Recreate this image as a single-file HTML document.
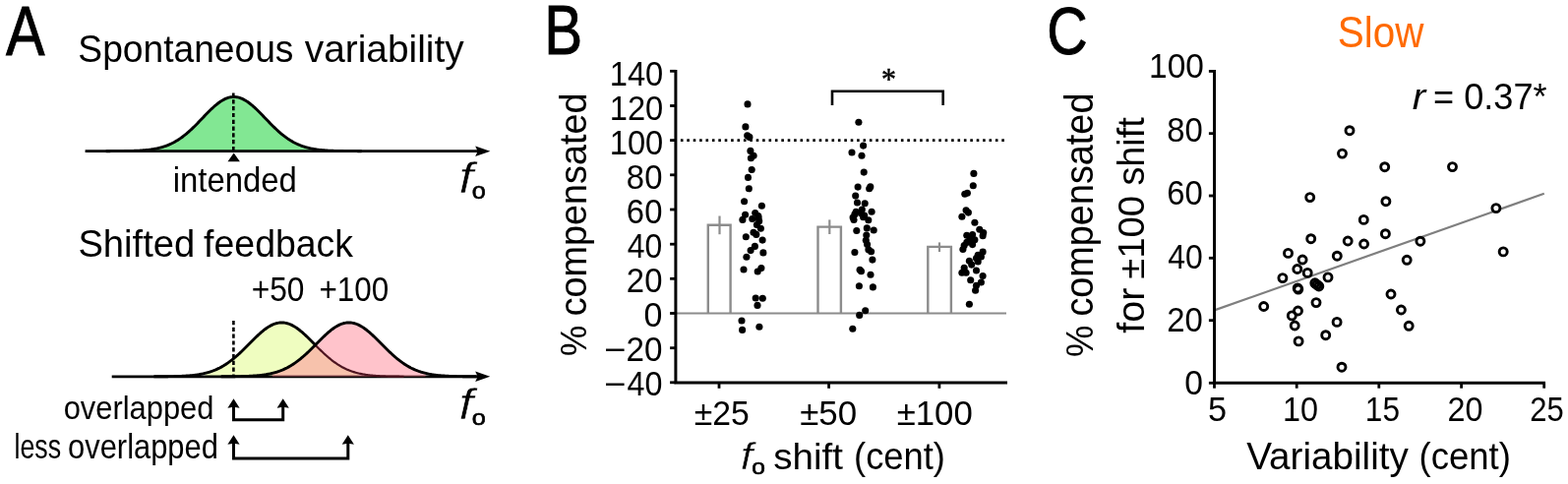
<!DOCTYPE html>
<html lang="en"><head><meta charset="utf-8"><title>Figure</title>
<style>html,body{margin:0;padding:0;background:#fff}svg{display:block}text{white-space:pre}</style></head>
<body>
<svg width="1594" height="492" viewBox="0 0 1594 492">
<rect width="1594" height="492" fill="#fff"/>
<g id="shapes">
<path d="M156.7 151.46 L157.7 151.27 L158.7 151.08 L159.7 150.87 L160.7 150.65 L161.7 150.41 L162.7 150.16 L163.7 149.89 L164.7 149.61 L165.7 149.31 L166.7 148.99 L167.7 148.66 L168.7 148.30 L169.7 147.93 L170.7 147.53 L171.7 147.12 L172.7 146.69 L173.7 146.23 L174.7 145.75 L175.7 145.25 L176.7 144.73 L177.7 144.18 L178.7 143.61 L179.7 143.02 L180.7 142.40 L181.7 141.76 L182.7 141.10 L183.7 140.41 L184.7 139.70 L185.7 138.96 L186.7 138.20 L187.7 137.41 L188.7 136.61 L189.7 135.78 L190.7 134.93 L191.7 134.06 L192.7 133.16 L193.7 132.25 L194.7 131.32 L195.7 130.37 L196.7 129.41 L197.7 128.43 L198.7 127.43 L199.7 126.43 L200.7 125.41 L201.7 124.38 L202.7 123.35 L203.7 122.31 L204.7 121.27 L205.7 120.22 L206.7 119.17 L207.7 118.13 L208.7 117.09 L209.7 116.06 L210.7 115.03 L211.7 114.02 L212.7 113.02 L213.7 112.03 L214.7 111.07 L215.7 110.12 L216.7 109.19 L217.7 108.29 L218.7 107.42 L219.7 106.58 L220.7 105.76 L221.7 104.99 L222.7 104.24 L223.7 103.54 L224.7 102.87 L225.7 102.25 L226.7 101.67 L227.7 101.13 L228.7 100.64 L229.7 100.20 L230.7 99.81 L231.7 99.46 L232.7 99.17 L233.7 98.93 L234.7 98.74 L235.7 98.61 L236.7 98.53 L237.7 98.50 L238.7 98.53 L239.7 98.61 L240.7 98.74 L241.7 98.93 L242.7 99.17 L243.7 99.46 L244.7 99.81 L245.7 100.20 L246.7 100.64 L247.7 101.13 L248.7 101.67 L249.7 102.25 L250.7 102.87 L251.7 103.54 L252.7 104.24 L253.7 104.99 L254.7 105.76 L255.7 106.58 L256.7 107.42 L257.7 108.29 L258.7 109.19 L259.7 110.12 L260.7 111.07 L261.7 112.03 L262.7 113.02 L263.7 114.02 L264.7 115.03 L265.7 116.06 L266.7 117.09 L267.7 118.13 L268.7 119.17 L269.7 120.22 L270.7 121.27 L271.7 122.31 L272.7 123.35 L273.7 124.38 L274.7 125.41 L275.7 126.43 L276.7 127.43 L277.7 128.43 L278.7 129.41 L279.7 130.37 L280.7 131.32 L281.7 132.25 L282.7 133.16 L283.7 134.06 L284.7 134.93 L285.7 135.78 L286.7 136.61 L287.7 137.41 L288.7 138.20 L289.7 138.96 L290.7 139.70 L291.7 140.41 L292.7 141.10 L293.7 141.76 L294.7 142.40 L295.7 143.02 L296.7 143.61 L297.7 144.18 L298.7 144.73 L299.7 145.25 L300.7 145.75 L301.7 146.23 L302.7 146.69 L303.7 147.12 L304.7 147.53 L305.7 147.93 L306.7 148.30 L307.7 148.66 L308.7 148.99 L309.7 149.31 L310.7 149.61 L311.7 149.89 L312.7 150.16 L313.7 150.41 L314.7 150.65 L315.7 150.87 L316.7 151.08 L317.7 151.27 L318.7 151.46 L318.7 153.70 L156.7 153.70 Z" fill="#82e793"/>
<line x1="86.6" y1="153.7" x2="486" y2="153.7" stroke="#000" stroke-width="2.7"/>
<path d="M107.7 153.69 L108.7 153.68 L109.7 153.68 L110.7 153.68 L111.7 153.68 L112.7 153.67 L113.7 153.67 L114.7 153.67 L115.7 153.66 L116.7 153.66 L117.7 153.65 L118.7 153.65 L119.7 153.64 L120.7 153.63 L121.7 153.62 L122.7 153.61 L123.7 153.60 L124.7 153.59 L125.7 153.58 L126.7 153.57 L127.7 153.55 L128.7 153.53 L129.7 153.51 L130.7 153.49 L131.7 153.47 L132.7 153.45 L133.7 153.42 L134.7 153.39 L135.7 153.36 L136.7 153.32 L137.7 153.28 L138.7 153.24 L139.7 153.19 L140.7 153.14 L141.7 153.09 L142.7 153.03 L143.7 152.96 L144.7 152.89 L145.7 152.81 L146.7 152.73 L147.7 152.64 L148.7 152.55 L149.7 152.44 L150.7 152.33 L151.7 152.21 L152.7 152.08 L153.7 151.94 L154.7 151.79 L155.7 151.63 L156.7 151.46 L157.7 151.27 L158.7 151.08 L159.7 150.87 L160.7 150.65 L161.7 150.41 L162.7 150.16 L163.7 149.89 L164.7 149.61 L165.7 149.31 L166.7 148.99 L167.7 148.66 L168.7 148.30 L169.7 147.93 L170.7 147.53 L171.7 147.12 L172.7 146.69 L173.7 146.23 L174.7 145.75 L175.7 145.25 L176.7 144.73 L177.7 144.18 L178.7 143.61 L179.7 143.02 L180.7 142.40 L181.7 141.76 L182.7 141.10 L183.7 140.41 L184.7 139.70 L185.7 138.96 L186.7 138.20 L187.7 137.41 L188.7 136.61 L189.7 135.78 L190.7 134.93 L191.7 134.06 L192.7 133.16 L193.7 132.25 L194.7 131.32 L195.7 130.37 L196.7 129.41 L197.7 128.43 L198.7 127.43 L199.7 126.43 L200.7 125.41 L201.7 124.38 L202.7 123.35 L203.7 122.31 L204.7 121.27 L205.7 120.22 L206.7 119.17 L207.7 118.13 L208.7 117.09 L209.7 116.06 L210.7 115.03 L211.7 114.02 L212.7 113.02 L213.7 112.03 L214.7 111.07 L215.7 110.12 L216.7 109.19 L217.7 108.29 L218.7 107.42 L219.7 106.58 L220.7 105.76 L221.7 104.99 L222.7 104.24 L223.7 103.54 L224.7 102.87 L225.7 102.25 L226.7 101.67 L227.7 101.13 L228.7 100.64 L229.7 100.20 L230.7 99.81 L231.7 99.46 L232.7 99.17 L233.7 98.93 L234.7 98.74 L235.7 98.61 L236.7 98.53 L237.7 98.50 L238.7 98.53 L239.7 98.61 L240.7 98.74 L241.7 98.93 L242.7 99.17 L243.7 99.46 L244.7 99.81 L245.7 100.20 L246.7 100.64 L247.7 101.13 L248.7 101.67 L249.7 102.25 L250.7 102.87 L251.7 103.54 L252.7 104.24 L253.7 104.99 L254.7 105.76 L255.7 106.58 L256.7 107.42 L257.7 108.29 L258.7 109.19 L259.7 110.12 L260.7 111.07 L261.7 112.03 L262.7 113.02 L263.7 114.02 L264.7 115.03 L265.7 116.06 L266.7 117.09 L267.7 118.13 L268.7 119.17 L269.7 120.22 L270.7 121.27 L271.7 122.31 L272.7 123.35 L273.7 124.38 L274.7 125.41 L275.7 126.43 L276.7 127.43 L277.7 128.43 L278.7 129.41 L279.7 130.37 L280.7 131.32 L281.7 132.25 L282.7 133.16 L283.7 134.06 L284.7 134.93 L285.7 135.78 L286.7 136.61 L287.7 137.41 L288.7 138.20 L289.7 138.96 L290.7 139.70 L291.7 140.41 L292.7 141.10 L293.7 141.76 L294.7 142.40 L295.7 143.02 L296.7 143.61 L297.7 144.18 L298.7 144.73 L299.7 145.25 L300.7 145.75 L301.7 146.23 L302.7 146.69 L303.7 147.12 L304.7 147.53 L305.7 147.93 L306.7 148.30 L307.7 148.66 L308.7 148.99 L309.7 149.31 L310.7 149.61 L311.7 149.89 L312.7 150.16 L313.7 150.41 L314.7 150.65 L315.7 150.87 L316.7 151.08 L317.7 151.27 L318.7 151.46 L319.7 151.63 L320.7 151.79 L321.7 151.94 L322.7 152.08 L323.7 152.21 L324.7 152.33 L325.7 152.44 L326.7 152.55 L327.7 152.64 L328.7 152.73 L329.7 152.81 L330.7 152.89 L331.7 152.96 L332.7 153.03 L333.7 153.09 L334.7 153.14 L335.7 153.19 L336.7 153.24 L337.7 153.28 L338.7 153.32 L339.7 153.36 L340.7 153.39 L341.7 153.42 L342.7 153.45 L343.7 153.47 L344.7 153.49 L345.7 153.51 L346.7 153.53 L347.7 153.55 L348.7 153.57 L349.7 153.58 L350.7 153.59 L351.7 153.60 L352.7 153.61 L353.7 153.62 L354.7 153.63 L355.7 153.64 L356.7 153.65 L357.7 153.65 L358.7 153.66 L359.7 153.66 L360.7 153.67 L361.7 153.67 L362.7 153.67 L363.7 153.68 L364.7 153.68 L365.7 153.68 L366.7 153.68 L367.7 153.69" fill="none" stroke="#000" stroke-width="2.9" stroke-linejoin="round"/>
<path d="M498.4 153.7 L483.2 148.5 L485.6 153.7 L483.2 158.89999999999998 Z" fill="#000"/>
<line x1="237.3" y1="94.5" x2="237.3" y2="153.7" stroke="#000" stroke-width="2.6" stroke-dasharray="4.2 2.6"/>
<path d="M237.7 155.6 L243.9 164.2 L231.5 164.2 Z" fill="#000"/>
<path d="M208.4 379.44 L209.4 379.19 L210.4 378.93 L211.4 378.65 L212.4 378.36 L213.4 378.05 L214.4 377.72 L215.4 377.38 L216.4 377.01 L217.4 376.63 L218.4 376.23 L219.4 375.81 L220.4 375.37 L221.4 374.91 L222.4 374.43 L223.4 373.93 L224.4 373.40 L225.4 372.86 L226.4 372.29 L227.4 371.70 L228.4 371.08 L229.4 370.45 L230.4 369.79 L231.4 369.11 L232.4 368.41 L233.4 367.68 L234.4 366.94 L235.4 366.17 L236.4 365.38 L237.4 364.57 L238.4 363.74 L239.4 362.89 L240.4 362.02 L241.4 361.13 L242.4 360.23 L243.4 359.31 L244.4 358.38 L245.4 357.43 L246.4 356.47 L247.4 355.49 L248.4 354.51 L249.4 353.52 L250.4 352.52 L251.4 351.52 L252.4 350.51 L253.4 349.50 L254.4 348.49 L255.4 347.49 L256.4 346.48 L257.4 345.49 L258.4 344.50 L259.4 343.52 L260.4 342.55 L261.4 341.60 L262.4 340.66 L263.4 339.74 L264.4 338.84 L265.4 337.96 L266.4 337.11 L267.4 336.29 L268.4 335.49 L269.4 334.72 L270.4 333.99 L271.4 333.29 L272.4 332.62 L273.4 332.00 L274.4 331.41 L275.4 330.87 L276.4 330.36 L277.4 329.90 L278.4 329.49 L279.4 329.12 L280.4 328.80 L281.4 328.53 L282.4 328.30 L283.4 328.13 L284.4 328.00 L285.4 327.93 L286.4 327.90 L287.4 327.93 L288.4 328.00 L289.4 328.13 L290.4 328.30 L291.4 328.53 L292.4 328.80 L293.4 329.12 L294.4 329.49 L295.4 329.90 L296.4 330.36 L297.4 330.87 L298.4 331.41 L299.4 332.00 L300.4 332.62 L301.4 333.29 L302.4 333.99 L303.4 334.72 L304.4 335.49 L305.4 336.29 L306.4 337.11 L307.4 337.96 L308.4 338.84 L309.4 339.74 L310.4 340.66 L311.4 341.60 L312.4 342.55 L313.4 343.52 L314.4 344.50 L315.4 345.49 L316.4 346.48 L317.4 347.49 L318.4 348.49 L319.4 349.50 L320.4 350.51 L321.4 351.52 L322.4 352.52 L323.4 353.52 L324.4 354.51 L325.4 355.49 L326.4 356.47 L327.4 357.43 L328.4 358.38 L329.4 359.31 L330.4 360.23 L331.4 361.13 L332.4 362.02 L333.4 362.89 L334.4 363.74 L335.4 364.57 L336.4 365.38 L337.4 366.17 L338.4 366.94 L339.4 367.68 L340.4 368.41 L341.4 369.11 L342.4 369.79 L343.4 370.45 L344.4 371.08 L345.4 371.70 L346.4 372.29 L347.4 372.86 L348.4 373.40 L349.4 373.93 L350.4 374.43 L351.4 374.91 L352.4 375.37 L353.4 375.81 L354.4 376.23 L355.4 376.63 L356.4 377.01 L357.4 377.38 L358.4 377.72 L359.4 378.05 L360.4 378.36 L361.4 378.65 L362.4 378.93 L363.4 379.19 L364.4 379.44 L364.4 382.80 L208.4 382.80 Z" fill="#effdc0"/>
<line x1="113.7" y1="382.8" x2="486" y2="382.8" stroke="#000" stroke-width="2.7"/>
<path d="M156.4 382.78 L157.4 382.77 L158.4 382.77 L159.4 382.77 L160.4 382.76 L161.4 382.76 L162.4 382.75 L163.4 382.75 L164.4 382.74 L165.4 382.73 L166.4 382.73 L167.4 382.72 L168.4 382.71 L169.4 382.70 L170.4 382.69 L171.4 382.67 L172.4 382.66 L173.4 382.64 L174.4 382.63 L175.4 382.61 L176.4 382.59 L177.4 382.57 L178.4 382.54 L179.4 382.51 L180.4 382.48 L181.4 382.45 L182.4 382.42 L183.4 382.38 L184.4 382.34 L185.4 382.29 L186.4 382.24 L187.4 382.19 L188.4 382.13 L189.4 382.07 L190.4 382.00 L191.4 381.93 L192.4 381.85 L193.4 381.76 L194.4 381.67 L195.4 381.57 L196.4 381.47 L197.4 381.35 L198.4 381.23 L199.4 381.10 L200.4 380.96 L201.4 380.81 L202.4 380.65 L203.4 380.48 L204.4 380.30 L205.4 380.10 L206.4 379.89 L207.4 379.67 L208.4 379.44 L209.4 379.19 L210.4 378.93 L211.4 378.65 L212.4 378.36 L213.4 378.05 L214.4 377.72 L215.4 377.38 L216.4 377.01 L217.4 376.63 L218.4 376.23 L219.4 375.81 L220.4 375.37 L221.4 374.91 L222.4 374.43 L223.4 373.93 L224.4 373.40 L225.4 372.86 L226.4 372.29 L227.4 371.70 L228.4 371.08 L229.4 370.45 L230.4 369.79 L231.4 369.11 L232.4 368.41 L233.4 367.68 L234.4 366.94 L235.4 366.17 L236.4 365.38 L237.4 364.57 L238.4 363.74 L239.4 362.89 L240.4 362.02 L241.4 361.13 L242.4 360.23 L243.4 359.31 L244.4 358.38 L245.4 357.43 L246.4 356.47 L247.4 355.49 L248.4 354.51 L249.4 353.52 L250.4 352.52 L251.4 351.52 L252.4 350.51 L253.4 349.50 L254.4 348.49 L255.4 347.49 L256.4 346.48 L257.4 345.49 L258.4 344.50 L259.4 343.52 L260.4 342.55 L261.4 341.60 L262.4 340.66 L263.4 339.74 L264.4 338.84 L265.4 337.96 L266.4 337.11 L267.4 336.29 L268.4 335.49 L269.4 334.72 L270.4 333.99 L271.4 333.29 L272.4 332.62 L273.4 332.00 L274.4 331.41 L275.4 330.87 L276.4 330.36 L277.4 329.90 L278.4 329.49 L279.4 329.12 L280.4 328.80 L281.4 328.53 L282.4 328.30 L283.4 328.13 L284.4 328.00 L285.4 327.93 L286.4 327.90 L287.4 327.93 L288.4 328.00 L289.4 328.13 L290.4 328.30 L291.4 328.53 L292.4 328.80 L293.4 329.12 L294.4 329.49 L295.4 329.90 L296.4 330.36 L297.4 330.87 L298.4 331.41 L299.4 332.00 L300.4 332.62 L301.4 333.29 L302.4 333.99 L303.4 334.72 L304.4 335.49 L305.4 336.29 L306.4 337.11 L307.4 337.96 L308.4 338.84 L309.4 339.74 L310.4 340.66 L311.4 341.60 L312.4 342.55 L313.4 343.52 L314.4 344.50 L315.4 345.49 L316.4 346.48 L317.4 347.49 L318.4 348.49 L319.4 349.50 L320.4 350.51 L321.4 351.52" fill="none" stroke="#000" stroke-width="2.9"/>
<line x1="237.4" y1="326" x2="237.4" y2="382.8" stroke="#000" stroke-width="2.6" stroke-dasharray="4.2 2.6"/>
<path d="M276.7 379.44 L277.7 379.19 L278.7 378.93 L279.7 378.65 L280.7 378.36 L281.7 378.05 L282.7 377.72 L283.7 377.38 L284.7 377.01 L285.7 376.63 L286.7 376.23 L287.7 375.81 L288.7 375.37 L289.7 374.91 L290.7 374.43 L291.7 373.93 L292.7 373.40 L293.7 372.86 L294.7 372.29 L295.7 371.70 L296.7 371.08 L297.7 370.45 L298.7 369.79 L299.7 369.11 L300.7 368.41 L301.7 367.68 L302.7 366.94 L303.7 366.17 L304.7 365.38 L305.7 364.57 L306.7 363.74 L307.7 362.89 L308.7 362.02 L309.7 361.13 L310.7 360.23 L311.7 359.31 L312.7 358.38 L313.7 357.43 L314.7 356.47 L315.7 355.49 L316.7 354.51 L317.7 353.52 L318.7 352.52 L319.7 351.52 L320.7 350.51 L321.7 349.50 L322.7 348.49 L323.7 347.49 L324.7 346.48 L325.7 345.49 L326.7 344.50 L327.7 343.52 L328.7 342.55 L329.7 341.60 L330.7 340.66 L331.7 339.74 L332.7 338.84 L333.7 337.96 L334.7 337.11 L335.7 336.29 L336.7 335.49 L337.7 334.72 L338.7 333.99 L339.7 333.29 L340.7 332.62 L341.7 332.00 L342.7 331.41 L343.7 330.87 L344.7 330.36 L345.7 329.90 L346.7 329.49 L347.7 329.12 L348.7 328.80 L349.7 328.53 L350.7 328.30 L351.7 328.13 L352.7 328.00 L353.7 327.93 L354.7 327.90 L355.7 327.93 L356.7 328.00 L357.7 328.13 L358.7 328.30 L359.7 328.53 L360.7 328.80 L361.7 329.12 L362.7 329.49 L363.7 329.90 L364.7 330.36 L365.7 330.87 L366.7 331.41 L367.7 332.00 L368.7 332.62 L369.7 333.29 L370.7 333.99 L371.7 334.72 L372.7 335.49 L373.7 336.29 L374.7 337.11 L375.7 337.96 L376.7 338.84 L377.7 339.74 L378.7 340.66 L379.7 341.60 L380.7 342.55 L381.7 343.52 L382.7 344.50 L383.7 345.49 L384.7 346.48 L385.7 347.49 L386.7 348.49 L387.7 349.50 L388.7 350.51 L389.7 351.52 L390.7 352.52 L391.7 353.52 L392.7 354.51 L393.7 355.49 L394.7 356.47 L395.7 357.43 L396.7 358.38 L397.7 359.31 L398.7 360.23 L399.7 361.13 L400.7 362.02 L401.7 362.89 L402.7 363.74 L403.7 364.57 L404.7 365.38 L405.7 366.17 L406.7 366.94 L407.7 367.68 L408.7 368.41 L409.7 369.11 L410.7 369.79 L411.7 370.45 L412.7 371.08 L413.7 371.70 L414.7 372.29 L415.7 372.86 L416.7 373.40 L417.7 373.93 L418.7 374.43 L419.7 374.91 L420.7 375.37 L421.7 375.81 L422.7 376.23 L423.7 376.63 L424.7 377.01 L425.7 377.38 L426.7 377.72 L427.7 378.05 L428.7 378.36 L429.7 378.65 L430.7 378.93 L431.7 379.19 L432.7 379.44 L432.7 382.80 L276.7 382.80 Z" fill="#ff8898" fill-opacity="0.5"/>
<path d="M320.5 350.66 L321.5 351.67 L322.5 352.67 L323.5 353.67 L324.5 354.66 L325.5 355.64 L326.5 356.61 L327.5 357.57 L328.5 358.52 L329.5 359.45 L330.5 360.37 L331.5 361.27 L332.5 362.15 L333.5 363.02 L334.5 363.86 L335.5 364.69 L336.5 365.50 L337.5 366.29 L338.5 367.05 L339.5 367.79 L340.5 368.51 L341.5 369.21 L342.5 369.89 L343.5 370.55 L344.5 371.18 L345.5 371.79 L346.5 372.37 L347.5 372.94 L348.5 373.48 L349.5 374.00 L350.5 374.50 L351.5 374.98 L352.5 375.44 L353.5 375.87 L354.5 376.29 L355.5 376.69 L356.5 377.07 L357.5 377.43 L358.5 377.77 L359.5 378.09 L360.5 378.40 L361.5 378.69 L362.5 378.97 L363.5 379.23 L364.5 379.48 L365.5 379.71 L366.5 379.93 L367.5 380.13 L368.5 380.32 L369.5 380.50 L370.5 380.67 L371.5 380.83 L372.5 380.98 L373.5 381.12 L374.5 381.25 L375.5 381.37 L376.5 381.48 L377.5 381.59 L378.5 381.69 L379.5 381.78 L380.5 381.86 L381.5 381.94 L382.5 382.01 L383.5 382.08 L384.5 382.14 L385.5 382.20 L386.5 382.25 L387.5 382.30 L388.5 382.34 L389.5 382.39 L390.5 382.42 L391.5 382.46 L392.5 382.49 L393.5 382.52 L394.5 382.54 L395.5 382.57 L396.5 382.59 L397.5 382.61 L398.5 382.63 L399.5 382.65 L400.5 382.66 L401.5 382.68 L402.5 382.69 L403.5 382.70 L404.5 382.71 L405.5 382.72 L406.5 382.73 L407.5 382.74 L408.5 382.74 L409.5 382.75 L410.5 382.75" fill="none" stroke="#4e1420" stroke-width="2.2"/>
<path d="M224.7 382.78 L225.7 382.77 L226.7 382.77 L227.7 382.77 L228.7 382.76 L229.7 382.76 L230.7 382.75 L231.7 382.75 L232.7 382.74 L233.7 382.73 L234.7 382.73 L235.7 382.72 L236.7 382.71 L237.7 382.70 L238.7 382.69 L239.7 382.67 L240.7 382.66 L241.7 382.64 L242.7 382.63 L243.7 382.61 L244.7 382.59 L245.7 382.57 L246.7 382.54 L247.7 382.51 L248.7 382.48 L249.7 382.45 L250.7 382.42 L251.7 382.38 L252.7 382.34 L253.7 382.29 L254.7 382.24 L255.7 382.19 L256.7 382.13 L257.7 382.07 L258.7 382.00 L259.7 381.93 L260.7 381.85 L261.7 381.76 L262.7 381.67 L263.7 381.57 L264.7 381.47 L265.7 381.35 L266.7 381.23 L267.7 381.10 L268.7 380.96 L269.7 380.81 L270.7 380.65 L271.7 380.48 L272.7 380.30 L273.7 380.10 L274.7 379.89 L275.7 379.67 L276.7 379.44 L277.7 379.19 L278.7 378.93 L279.7 378.65 L280.7 378.36 L281.7 378.05 L282.7 377.72 L283.7 377.38 L284.7 377.01 L285.7 376.63 L286.7 376.23 L287.7 375.81 L288.7 375.37 L289.7 374.91 L290.7 374.43 L291.7 373.93 L292.7 373.40 L293.7 372.86 L294.7 372.29 L295.7 371.70 L296.7 371.08 L297.7 370.45 L298.7 369.79 L299.7 369.11 L300.7 368.41 L301.7 367.68 L302.7 366.94 L303.7 366.17 L304.7 365.38 L305.7 364.57 L306.7 363.74 L307.7 362.89 L308.7 362.02 L309.7 361.13 L310.7 360.23 L311.7 359.31 L312.7 358.38 L313.7 357.43 L314.7 356.47 L315.7 355.49 L316.7 354.51 L317.7 353.52 L318.7 352.52 L319.7 351.52 L320.7 350.51 L321.7 349.50 L322.7 348.49 L323.7 347.49 L324.7 346.48 L325.7 345.49 L326.7 344.50 L327.7 343.52 L328.7 342.55 L329.7 341.60 L330.7 340.66 L331.7 339.74 L332.7 338.84 L333.7 337.96 L334.7 337.11 L335.7 336.29 L336.7 335.49 L337.7 334.72 L338.7 333.99 L339.7 333.29 L340.7 332.62 L341.7 332.00 L342.7 331.41 L343.7 330.87 L344.7 330.36 L345.7 329.90 L346.7 329.49 L347.7 329.12 L348.7 328.80 L349.7 328.53 L350.7 328.30 L351.7 328.13 L352.7 328.00 L353.7 327.93 L354.7 327.90 L355.7 327.93 L356.7 328.00 L357.7 328.13 L358.7 328.30 L359.7 328.53 L360.7 328.80 L361.7 329.12 L362.7 329.49 L363.7 329.90 L364.7 330.36 L365.7 330.87 L366.7 331.41 L367.7 332.00 L368.7 332.62 L369.7 333.29 L370.7 333.99 L371.7 334.72 L372.7 335.49 L373.7 336.29 L374.7 337.11 L375.7 337.96 L376.7 338.84 L377.7 339.74 L378.7 340.66 L379.7 341.60 L380.7 342.55 L381.7 343.52 L382.7 344.50 L383.7 345.49 L384.7 346.48 L385.7 347.49 L386.7 348.49 L387.7 349.50 L388.7 350.51 L389.7 351.52 L390.7 352.52 L391.7 353.52 L392.7 354.51 L393.7 355.49 L394.7 356.47 L395.7 357.43 L396.7 358.38 L397.7 359.31 L398.7 360.23 L399.7 361.13 L400.7 362.02 L401.7 362.89 L402.7 363.74 L403.7 364.57 L404.7 365.38 L405.7 366.17 L406.7 366.94 L407.7 367.68 L408.7 368.41 L409.7 369.11 L410.7 369.79 L411.7 370.45 L412.7 371.08 L413.7 371.70 L414.7 372.29 L415.7 372.86 L416.7 373.40 L417.7 373.93 L418.7 374.43 L419.7 374.91 L420.7 375.37 L421.7 375.81 L422.7 376.23 L423.7 376.63 L424.7 377.01 L425.7 377.38 L426.7 377.72 L427.7 378.05 L428.7 378.36 L429.7 378.65 L430.7 378.93 L431.7 379.19 L432.7 379.44 L433.7 379.67 L434.7 379.89 L435.7 380.10 L436.7 380.30 L437.7 380.48 L438.7 380.65 L439.7 380.81 L440.7 380.96 L441.7 381.10 L442.7 381.23 L443.7 381.35 L444.7 381.47 L445.7 381.57 L446.7 381.67 L447.7 381.76 L448.7 381.85 L449.7 381.93 L450.7 382.00 L451.7 382.07 L452.7 382.13 L453.7 382.19 L454.7 382.24 L455.7 382.29 L456.7 382.34 L457.7 382.38 L458.7 382.42 L459.7 382.45 L460.7 382.48 L461.7 382.51 L462.7 382.54 L463.7 382.57 L464.7 382.59 L465.7 382.61 L466.7 382.63 L467.7 382.64 L468.7 382.66 L469.7 382.67 L470.7 382.69 L471.7 382.70 L472.7 382.71 L473.7 382.72 L474.7 382.73 L475.7 382.73 L476.7 382.74 L477.7 382.75 L478.7 382.75 L479.7 382.76 L480.7 382.76 L481.7 382.77 L482.7 382.77 L483.7 382.77 L484.7 382.78" fill="none" stroke="#000" stroke-width="2.9"/>
<path d="M498.2 382.8 L483.2 377.6 L485.6 382.8 L483.2 388.0 Z" fill="#000"/>
<path d="M237.5 411.3 L237.5 426.8 L287.7 426.8 L287.7 411.3" fill="none" stroke="#000" stroke-width="3.0" stroke-linejoin="miter"/><path d="M237.5 405.3 L243.6 414.7 L237.5 413.7 L231.4 414.7 Z" fill="#000"/><path d="M287.7 405.3 L293.8 414.7 L287.7 413.7 L281.59999999999997 414.7 Z" fill="#000"/>
<path d="M237.5 448.3 L237.5 466.0 L353.8 466.0 L353.8 448.3" fill="none" stroke="#000" stroke-width="3.0" stroke-linejoin="miter"/><path d="M237.5 442.3 L243.6 451.7 L237.5 450.7 L231.4 451.7 Z" fill="#000"/><path d="M353.8 442.3 L359.90000000000003 451.7 L353.8 450.7 L347.7 451.7 Z" fill="#000"/>
<path d="M719.8 318.5 L719.8 228.7 L742.6 228.7 L742.6 318.5" fill="#fff" stroke="#8c8c8c" stroke-width="2.4"/>
<line x1="731.5" y1="219.5" x2="731.5" y2="238.2" stroke="#8c8c8c" stroke-width="2.2"/>
<path d="M831.5 318.5 L831.5 230.6 L854.9 230.6 L854.9 318.5" fill="#fff" stroke="#8c8c8c" stroke-width="2.4"/>
<line x1="843.3" y1="223.4" x2="843.3" y2="238.0" stroke="#8c8c8c" stroke-width="2.2"/>
<path d="M943.3 318.5 L943.3 250.9 L966.9 250.9 L966.9 318.5" fill="#fff" stroke="#8c8c8c" stroke-width="2.4"/>
<line x1="955.0" y1="246.4" x2="955.0" y2="256.0" stroke="#8c8c8c" stroke-width="2.2"/>
<line x1="686.9" y1="318.5" x2="1023" y2="318.5" stroke="#8c8c8c" stroke-width="2.2"/>
<line x1="691.9" y1="142.6" x2="1023" y2="142.6" stroke="#000" stroke-width="2.7" stroke-dasharray="2.6 3.8"/>
<path d="M686.9 71.0 L686.9 389.1 L1024 389.1" fill="none" stroke="#000" stroke-width="3.0" stroke-linejoin="miter"/>
<line x1="681.1" y1="388.8" x2="686.9" y2="388.8" stroke="#000" stroke-width="2.8"/>
<line x1="681.1" y1="353.7" x2="686.9" y2="353.7" stroke="#000" stroke-width="2.8"/>
<line x1="681.1" y1="318.5" x2="686.9" y2="318.5" stroke="#000" stroke-width="2.8"/>
<line x1="681.1" y1="283.3" x2="686.9" y2="283.3" stroke="#000" stroke-width="2.8"/>
<line x1="681.1" y1="248.2" x2="686.9" y2="248.2" stroke="#000" stroke-width="2.8"/>
<line x1="681.1" y1="213.0" x2="686.9" y2="213.0" stroke="#000" stroke-width="2.8"/>
<line x1="681.1" y1="177.8" x2="686.9" y2="177.8" stroke="#000" stroke-width="2.8"/>
<line x1="681.1" y1="142.6" x2="686.9" y2="142.6" stroke="#000" stroke-width="2.8"/>
<line x1="681.1" y1="107.5" x2="686.9" y2="107.5" stroke="#000" stroke-width="2.8"/>
<line x1="681.1" y1="72.3" x2="686.9" y2="72.3" stroke="#000" stroke-width="2.8"/>
<line x1="731.0" y1="389.1" x2="731.0" y2="394.8" stroke="#000" stroke-width="2.8"/>
<line x1="842.6" y1="389.1" x2="842.6" y2="394.8" stroke="#000" stroke-width="2.8"/>
<line x1="954.9" y1="389.1" x2="954.9" y2="394.8" stroke="#000" stroke-width="2.8"/>
<path d="M846 107 L846 92.8 L958.7 92.8 L958.7 107" fill="none" stroke="#000" stroke-width="2.6"/>
<circle cx="760.0" cy="105.9" r="3.55" fill="#000"/>
<circle cx="757.9" cy="128.9" r="3.55" fill="#000"/>
<circle cx="759.7" cy="137.8" r="3.55" fill="#000"/>
<circle cx="761.9" cy="139.4" r="3.55" fill="#000"/>
<circle cx="762.9" cy="153.4" r="3.55" fill="#000"/>
<circle cx="766.1" cy="158.2" r="3.55" fill="#000"/>
<circle cx="763.4" cy="160.8" r="3.55" fill="#000"/>
<circle cx="764.2" cy="172.5" r="3.55" fill="#000"/>
<circle cx="760.5" cy="180.4" r="3.55" fill="#000"/>
<circle cx="761.3" cy="191.8" r="3.55" fill="#000"/>
<circle cx="756.6" cy="204.7" r="3.55" fill="#000"/>
<circle cx="774.4" cy="209.3" r="3.55" fill="#000"/>
<circle cx="757.6" cy="218.2" r="3.55" fill="#000"/>
<circle cx="767.7" cy="216.5" r="3.55" fill="#000"/>
<circle cx="770.8" cy="219.6" r="3.55" fill="#000"/>
<circle cx="754.9" cy="223.4" r="3.55" fill="#000"/>
<circle cx="764.8" cy="222.5" r="3.55" fill="#000"/>
<circle cx="771.1" cy="221.4" r="3.55" fill="#000"/>
<circle cx="771.7" cy="224.8" r="3.55" fill="#000"/>
<circle cx="769.4" cy="228.5" r="3.55" fill="#000"/>
<circle cx="773.4" cy="232.2" r="3.55" fill="#000"/>
<circle cx="766.0" cy="236.2" r="3.55" fill="#000"/>
<circle cx="768.8" cy="238.4" r="3.55" fill="#000"/>
<circle cx="758.3" cy="240.7" r="3.55" fill="#000"/>
<circle cx="775.1" cy="244.1" r="3.55" fill="#000"/>
<circle cx="767.4" cy="250.4" r="3.55" fill="#000"/>
<circle cx="763.1" cy="254.6" r="3.55" fill="#000"/>
<circle cx="775.9" cy="256.9" r="3.55" fill="#000"/>
<circle cx="758.9" cy="261.2" r="3.55" fill="#000"/>
<circle cx="756.0" cy="274.0" r="3.55" fill="#000"/>
<circle cx="773.9" cy="272.6" r="3.55" fill="#000"/>
<circle cx="770.2" cy="276.0" r="3.55" fill="#000"/>
<circle cx="768.2" cy="303.0" r="3.55" fill="#000"/>
<circle cx="775.3" cy="303.3" r="3.55" fill="#000"/>
<circle cx="770.0" cy="310.4" r="3.55" fill="#000"/>
<circle cx="754.0" cy="326.0" r="3.55" fill="#000"/>
<circle cx="754.6" cy="335.4" r="3.55" fill="#000"/>
<circle cx="771.9" cy="332.3" r="3.55" fill="#000"/>
<circle cx="872.9" cy="124.3" r="3.55" fill="#000"/>
<circle cx="877.6" cy="148.1" r="3.55" fill="#000"/>
<circle cx="866.0" cy="155.0" r="3.55" fill="#000"/>
<circle cx="876.0" cy="158.2" r="3.55" fill="#000"/>
<circle cx="878.2" cy="175.1" r="3.55" fill="#000"/>
<circle cx="872.1" cy="190.1" r="3.55" fill="#000"/>
<circle cx="884.8" cy="189.9" r="3.55" fill="#000"/>
<circle cx="883.7" cy="191.7" r="3.55" fill="#000"/>
<circle cx="869.7" cy="199.1" r="3.55" fill="#000"/>
<circle cx="871.5" cy="206.0" r="3.55" fill="#000"/>
<circle cx="879.2" cy="206.8" r="3.55" fill="#000"/>
<circle cx="876.3" cy="213.1" r="3.55" fill="#000"/>
<circle cx="870.2" cy="215.3" r="3.55" fill="#000"/>
<circle cx="886.1" cy="215.3" r="3.55" fill="#000"/>
<circle cx="868.9" cy="217.9" r="3.55" fill="#000"/>
<circle cx="875.5" cy="217.1" r="3.55" fill="#000"/>
<circle cx="878.7" cy="219.0" r="3.55" fill="#000"/>
<circle cx="867.1" cy="221.1" r="3.55" fill="#000"/>
<circle cx="868.0" cy="223.5" r="3.55" fill="#000"/>
<circle cx="882.8" cy="223.8" r="3.55" fill="#000"/>
<circle cx="877.6" cy="220.8" r="3.55" fill="#000"/>
<circle cx="881.3" cy="231.9" r="3.55" fill="#000"/>
<circle cx="888.2" cy="234.0" r="3.55" fill="#000"/>
<circle cx="870.8" cy="234.5" r="3.55" fill="#000"/>
<circle cx="880.8" cy="239.0" r="3.55" fill="#000"/>
<circle cx="880.3" cy="244.3" r="3.55" fill="#000"/>
<circle cx="881.6" cy="248.5" r="3.55" fill="#000"/>
<circle cx="882.9" cy="253.8" r="3.55" fill="#000"/>
<circle cx="885.6" cy="255.7" r="3.55" fill="#000"/>
<circle cx="868.9" cy="256.5" r="3.55" fill="#000"/>
<circle cx="886.9" cy="264.1" r="3.55" fill="#000"/>
<circle cx="874.1" cy="274.3" r="3.55" fill="#000"/>
<circle cx="875.5" cy="275.8" r="3.55" fill="#000"/>
<circle cx="885.0" cy="279.2" r="3.55" fill="#000"/>
<circle cx="873.4" cy="290.8" r="3.55" fill="#000"/>
<circle cx="887.4" cy="291.9" r="3.55" fill="#000"/>
<circle cx="879.7" cy="315.7" r="3.55" fill="#000"/>
<circle cx="873.7" cy="320.4" r="3.55" fill="#000"/>
<circle cx="866.8" cy="334.2" r="3.55" fill="#000"/>
<circle cx="989.9" cy="176.4" r="3.55" fill="#000"/>
<circle cx="989.3" cy="188.8" r="3.55" fill="#000"/>
<circle cx="980.8" cy="197.2" r="3.55" fill="#000"/>
<circle cx="983.4" cy="196.2" r="3.55" fill="#000"/>
<circle cx="982.1" cy="213.8" r="3.55" fill="#000"/>
<circle cx="984.4" cy="216.1" r="3.55" fill="#000"/>
<circle cx="977.9" cy="220.3" r="3.55" fill="#000"/>
<circle cx="990.9" cy="226.2" r="3.55" fill="#000"/>
<circle cx="995.8" cy="233.3" r="3.55" fill="#000"/>
<circle cx="999.7" cy="236.6" r="3.55" fill="#000"/>
<circle cx="999.1" cy="239.8" r="3.55" fill="#000"/>
<circle cx="982.8" cy="239.2" r="3.55" fill="#000"/>
<circle cx="988.6" cy="238.5" r="3.55" fill="#000"/>
<circle cx="986.0" cy="243.1" r="3.55" fill="#000"/>
<circle cx="990.9" cy="243.8" r="3.55" fill="#000"/>
<circle cx="982.8" cy="246.4" r="3.55" fill="#000"/>
<circle cx="988.6" cy="248.6" r="3.55" fill="#000"/>
<circle cx="980.2" cy="249.6" r="3.55" fill="#000"/>
<circle cx="978.9" cy="253.5" r="3.55" fill="#000"/>
<circle cx="999.1" cy="256.1" r="3.55" fill="#000"/>
<circle cx="994.2" cy="259.4" r="3.55" fill="#000"/>
<circle cx="997.4" cy="261.0" r="3.55" fill="#000"/>
<circle cx="992.5" cy="262.6" r="3.55" fill="#000"/>
<circle cx="985.4" cy="265.2" r="3.55" fill="#000"/>
<circle cx="994.2" cy="265.9" r="3.55" fill="#000"/>
<circle cx="987.7" cy="269.1" r="3.55" fill="#000"/>
<circle cx="980.2" cy="272.4" r="3.55" fill="#000"/>
<circle cx="992.5" cy="275.0" r="3.55" fill="#000"/>
<circle cx="977.9" cy="277.3" r="3.55" fill="#000"/>
<circle cx="982.1" cy="277.3" r="3.55" fill="#000"/>
<circle cx="999.1" cy="280.5" r="3.55" fill="#000"/>
<circle cx="986.7" cy="284.7" r="3.55" fill="#000"/>
<circle cx="997.4" cy="287.0" r="3.55" fill="#000"/>
<circle cx="992.5" cy="290.3" r="3.55" fill="#000"/>
<circle cx="991.6" cy="295.2" r="3.55" fill="#000"/>
<circle cx="985.4" cy="309.2" r="3.55" fill="#000"/>
<line x1="1234.5" y1="315.4" x2="1569.8" y2="196.8" stroke="#7f7f7f" stroke-width="2.2"/>
<path d="M1234.5 71.10000000000001 L1234.5 389.3 L1571 389.3" fill="none" stroke="#000" stroke-width="3.0"/>
<line x1="1228.9" y1="72.4" x2="1234.5" y2="72.4" stroke="#000" stroke-width="2.8"/>
<line x1="1228.9" y1="135.7" x2="1234.5" y2="135.7" stroke="#000" stroke-width="2.8"/>
<line x1="1228.9" y1="199.0" x2="1234.5" y2="199.0" stroke="#000" stroke-width="2.8"/>
<line x1="1228.9" y1="262.3" x2="1234.5" y2="262.3" stroke="#000" stroke-width="2.8"/>
<line x1="1228.9" y1="325.7" x2="1234.5" y2="325.7" stroke="#000" stroke-width="2.8"/>
<line x1="1228.9" y1="389.3" x2="1234.5" y2="389.3" stroke="#000" stroke-width="2.8"/>
<line x1="1234.5" y1="389.3" x2="1234.5" y2="394.7" stroke="#000" stroke-width="2.8"/>
<line x1="1318.2" y1="389.3" x2="1318.2" y2="394.7" stroke="#000" stroke-width="2.8"/>
<line x1="1401.8" y1="389.3" x2="1401.8" y2="394.7" stroke="#000" stroke-width="2.8"/>
<line x1="1485.6" y1="389.3" x2="1485.6" y2="394.7" stroke="#000" stroke-width="2.8"/>
<line x1="1569.7" y1="389.3" x2="1569.7" y2="394.7" stroke="#000" stroke-width="2.8"/>
<circle cx="1372.0" cy="132.7" r="4.0" fill="#fff"/>
<circle cx="1364.5" cy="156.1" r="4.0" fill="#fff"/>
<circle cx="1407.7" cy="169.7" r="4.0" fill="#fff"/>
<circle cx="1331.7" cy="200.6" r="4.0" fill="#fff"/>
<circle cx="1408.9" cy="204.7" r="4.0" fill="#fff"/>
<circle cx="1386.3" cy="223.4" r="4.0" fill="#fff"/>
<circle cx="1332.7" cy="242.7" r="4.0" fill="#fff"/>
<circle cx="1370.2" cy="245.0" r="4.0" fill="#fff"/>
<circle cx="1386.6" cy="248.0" r="4.0" fill="#fff"/>
<circle cx="1408.4" cy="237.7" r="4.0" fill="#fff"/>
<circle cx="1309.5" cy="257.4" r="4.0" fill="#fff"/>
<circle cx="1324.1" cy="264.0" r="4.0" fill="#fff"/>
<circle cx="1359.3" cy="260.2" r="4.0" fill="#fff"/>
<circle cx="1430.2" cy="264.3" r="4.0" fill="#fff"/>
<circle cx="1318.8" cy="273.5" r="4.0" fill="#fff"/>
<circle cx="1329.2" cy="277.4" r="4.0" fill="#fff"/>
<circle cx="1303.9" cy="282.6" r="4.0" fill="#fff"/>
<circle cx="1350.0" cy="281.9" r="4.0" fill="#fff"/>
<circle cx="1336.8" cy="287.8" r="4.0" fill="#fff"/>
<circle cx="1338.8" cy="289.4" r="4.0" fill="#fff"/>
<circle cx="1340.8" cy="291.0" r="4.0" fill="#fff"/>
<circle cx="1319.2" cy="292.9" r="4.0" fill="#fff"/>
<circle cx="1319.8" cy="294.1" r="4.0" fill="#fff"/>
<circle cx="1414.0" cy="299.0" r="4.0" fill="#fff"/>
<circle cx="1284.7" cy="311.5" r="4.0" fill="#fff"/>
<circle cx="1338.0" cy="307.6" r="4.0" fill="#fff"/>
<circle cx="1319.5" cy="316.0" r="4.0" fill="#fff"/>
<circle cx="1313.3" cy="320.9" r="4.0" fill="#fff"/>
<circle cx="1424.4" cy="315.0" r="4.0" fill="#fff"/>
<circle cx="1316.2" cy="331.0" r="4.0" fill="#fff"/>
<circle cx="1359.1" cy="327.4" r="4.0" fill="#fff"/>
<circle cx="1432.2" cy="331.3" r="4.0" fill="#fff"/>
<circle cx="1347.7" cy="340.7" r="4.0" fill="#fff"/>
<circle cx="1320.1" cy="346.9" r="4.0" fill="#fff"/>
<circle cx="1364.0" cy="373.2" r="4.0" fill="#fff"/>
<circle cx="1476.5" cy="169.6" r="4.0" fill="#fff"/>
<circle cx="1520.9" cy="211.6" r="4.0" fill="#fff"/>
<circle cx="1443.9" cy="245.2" r="4.0" fill="#fff"/>
<circle cx="1528.2" cy="255.9" r="4.0" fill="#fff"/>
<circle cx="1372.0" cy="132.7" r="4.0" fill="none" stroke="#000" stroke-width="2.9"/>
<circle cx="1364.5" cy="156.1" r="4.0" fill="none" stroke="#000" stroke-width="2.9"/>
<circle cx="1407.7" cy="169.7" r="4.0" fill="none" stroke="#000" stroke-width="2.9"/>
<circle cx="1331.7" cy="200.6" r="4.0" fill="none" stroke="#000" stroke-width="2.9"/>
<circle cx="1408.9" cy="204.7" r="4.0" fill="none" stroke="#000" stroke-width="2.9"/>
<circle cx="1386.3" cy="223.4" r="4.0" fill="none" stroke="#000" stroke-width="2.9"/>
<circle cx="1332.7" cy="242.7" r="4.0" fill="none" stroke="#000" stroke-width="2.9"/>
<circle cx="1370.2" cy="245.0" r="4.0" fill="none" stroke="#000" stroke-width="2.9"/>
<circle cx="1386.6" cy="248.0" r="4.0" fill="none" stroke="#000" stroke-width="2.9"/>
<circle cx="1408.4" cy="237.7" r="4.0" fill="none" stroke="#000" stroke-width="2.9"/>
<circle cx="1309.5" cy="257.4" r="4.0" fill="none" stroke="#000" stroke-width="2.9"/>
<circle cx="1324.1" cy="264.0" r="4.0" fill="none" stroke="#000" stroke-width="2.9"/>
<circle cx="1359.3" cy="260.2" r="4.0" fill="none" stroke="#000" stroke-width="2.9"/>
<circle cx="1430.2" cy="264.3" r="4.0" fill="none" stroke="#000" stroke-width="2.9"/>
<circle cx="1318.8" cy="273.5" r="4.0" fill="none" stroke="#000" stroke-width="2.9"/>
<circle cx="1329.2" cy="277.4" r="4.0" fill="none" stroke="#000" stroke-width="2.9"/>
<circle cx="1303.9" cy="282.6" r="4.0" fill="none" stroke="#000" stroke-width="2.9"/>
<circle cx="1350.0" cy="281.9" r="4.0" fill="none" stroke="#000" stroke-width="2.9"/>
<circle cx="1336.8" cy="287.8" r="4.0" fill="none" stroke="#000" stroke-width="2.9"/>
<circle cx="1338.8" cy="289.4" r="4.0" fill="none" stroke="#000" stroke-width="2.9"/>
<circle cx="1340.8" cy="291.0" r="4.0" fill="none" stroke="#000" stroke-width="2.9"/>
<circle cx="1319.2" cy="292.9" r="4.0" fill="none" stroke="#000" stroke-width="2.9"/>
<circle cx="1319.8" cy="294.1" r="4.0" fill="none" stroke="#000" stroke-width="2.9"/>
<circle cx="1414.0" cy="299.0" r="4.0" fill="none" stroke="#000" stroke-width="2.9"/>
<circle cx="1284.7" cy="311.5" r="4.0" fill="none" stroke="#000" stroke-width="2.9"/>
<circle cx="1338.0" cy="307.6" r="4.0" fill="none" stroke="#000" stroke-width="2.9"/>
<circle cx="1319.5" cy="316.0" r="4.0" fill="none" stroke="#000" stroke-width="2.9"/>
<circle cx="1313.3" cy="320.9" r="4.0" fill="none" stroke="#000" stroke-width="2.9"/>
<circle cx="1424.4" cy="315.0" r="4.0" fill="none" stroke="#000" stroke-width="2.9"/>
<circle cx="1316.2" cy="331.0" r="4.0" fill="none" stroke="#000" stroke-width="2.9"/>
<circle cx="1359.1" cy="327.4" r="4.0" fill="none" stroke="#000" stroke-width="2.9"/>
<circle cx="1432.2" cy="331.3" r="4.0" fill="none" stroke="#000" stroke-width="2.9"/>
<circle cx="1347.7" cy="340.7" r="4.0" fill="none" stroke="#000" stroke-width="2.9"/>
<circle cx="1320.1" cy="346.9" r="4.0" fill="none" stroke="#000" stroke-width="2.9"/>
<circle cx="1364.0" cy="373.2" r="4.0" fill="none" stroke="#000" stroke-width="2.9"/>
<circle cx="1476.5" cy="169.6" r="4.0" fill="none" stroke="#000" stroke-width="2.9"/>
<circle cx="1520.9" cy="211.6" r="4.0" fill="none" stroke="#000" stroke-width="2.9"/>
<circle cx="1443.9" cy="245.2" r="4.0" fill="none" stroke="#000" stroke-width="2.9"/>
<circle cx="1528.2" cy="255.9" r="4.0" fill="none" stroke="#000" stroke-width="2.9"/>
</g>
<g id="labels">
<text transform="translate(6.10 55.60) scale(0.8468 0.9959)" font-family="Liberation Sans, sans-serif" font-size="70" fill="#000" stroke="#000" stroke-width="0.9">A</text>
<text transform="translate(553.23 54.80) scale(0.8342 0.9959)" font-family="Liberation Sans, sans-serif" font-size="70" fill="#000" stroke="#000" stroke-width="0.9">B</text>
<text transform="translate(1064.14 54.92) scale(0.8200 0.9824)" font-family="Liberation Sans, sans-serif" font-size="70" fill="#000" stroke="#000" stroke-width="0.9">C</text>
<text transform="translate(79.34 62.80) scale(0.9787 1.0111)" font-family="Liberation Sans, sans-serif" font-size="38" fill="#000">Spontaneous</text>
<text transform="translate(309.80 62.80) scale(1.0222 1.0286)" font-family="Liberation Sans, sans-serif" font-size="38" fill="#000">variability</text>
<text transform="translate(175.81 195.20) scale(0.9951 1.0667)" font-family="Liberation Sans, sans-serif" font-size="33" fill="#000">intended</text>
<text transform="translate(466.47 196.10) scale(1.2154 1.0226)" font-family="Liberation Sans, sans-serif" font-size="43" fill="#000" font-style="italic" stroke="#fff" stroke-width="0.45">f</text>
<text transform="translate(479.65 201.80) scale(1.0500 0.9615)" font-family="Liberation Sans, sans-serif" font-size="24" fill="#000" stroke="#000" stroke-width="0.7">o</text>
<text transform="translate(79.39 261.40) scale(1.0044 1.0429)" font-family="Liberation Sans, sans-serif" font-size="38" fill="#000">Shifted</text>
<text transform="translate(207.12 261.40) scale(0.9850 1.0429)" font-family="Liberation Sans, sans-serif" font-size="38" fill="#000">feedback</text>
<text transform="translate(255.68 305.70) scale(0.9604 1.0391)" font-family="Liberation Sans, sans-serif" font-size="33" fill="#000">+50</text>
<text transform="translate(324.50 305.70) scale(0.9521 1.0391)" font-family="Liberation Sans, sans-serif" font-size="33" fill="#000">+100</text>
<text transform="translate(64.66 426.30) scale(0.9356 1.0208)" font-family="Liberation Sans, sans-serif" font-size="33" fill="#000">overlapped</text>
<text transform="translate(14.48 466.40) scale(0.8125 1.0417)" font-family="Liberation Sans, sans-serif" font-size="33" fill="#000">less</text>
<text transform="translate(69.06 466.40) scale(0.9363 1.0417)" font-family="Liberation Sans, sans-serif" font-size="33" fill="#000">overlapped</text>
<text transform="translate(466.47 426.30) scale(1.2154 1.0258)" font-family="Liberation Sans, sans-serif" font-size="43" fill="#000" font-style="italic" stroke="#fff" stroke-width="0.45">f</text>
<text transform="translate(479.65 432.00) scale(1.0500 0.9462)" font-family="Liberation Sans, sans-serif" font-size="24" fill="#000" stroke="#000" stroke-width="0.7">o</text>
<text transform="translate(619.72 87.00) scale(0.9615 1.0174)" font-family="Liberation Sans, sans-serif" font-size="34" fill="#000">140</text>
<text transform="translate(619.72 121.97) scale(0.9615 1.0174)" font-family="Liberation Sans, sans-serif" font-size="34" fill="#000">120</text>
<text transform="translate(619.72 156.94) scale(0.9615 1.0174)" font-family="Liberation Sans, sans-serif" font-size="34" fill="#000">100</text>
<text transform="translate(636.87 191.91) scale(0.9657 1.0174)" font-family="Liberation Sans, sans-serif" font-size="34" fill="#000">80</text>
<text transform="translate(636.87 226.88) scale(0.9657 1.0174)" font-family="Liberation Sans, sans-serif" font-size="34" fill="#000">60</text>
<text transform="translate(637.86 261.85) scale(0.9389 1.0174)" font-family="Liberation Sans, sans-serif" font-size="34" fill="#000">40</text>
<text transform="translate(636.87 296.82) scale(0.9657 1.0174)" font-family="Liberation Sans, sans-serif" font-size="34" fill="#000">20</text>
<text transform="translate(654.60 331.79) scale(1.0000 1.0174)" font-family="Liberation Sans, sans-serif" font-size="34" fill="#000">0</text>
<text transform="translate(614.15 366.76) scale(1.1250 1.0000)" font-family="Liberation Sans, sans-serif" font-size="34" fill="#000">−</text>
<text transform="translate(636.45 366.76) scale(0.9771 1.0174)" font-family="Liberation Sans, sans-serif" font-size="34" fill="#000">20</text>
<text transform="translate(614.15 401.73) scale(1.1250 1.0000)" font-family="Liberation Sans, sans-serif" font-size="34" fill="#000">−</text>
<text transform="translate(637.45 401.73) scale(0.9500 1.0174)" font-family="Liberation Sans, sans-serif" font-size="34" fill="#000">40</text>
<text transform="translate(705.71 432.10) scale(0.9926 1.0435)" font-family="Liberation Sans, sans-serif" font-size="34" fill="#000">±25</text>
<text transform="translate(813.17 432.10) scale(1.0259 1.0435)" font-family="Liberation Sans, sans-serif" font-size="34" fill="#000">±50</text>
<text transform="translate(911.68 432.10) scale(1.0233 1.0435)" font-family="Liberation Sans, sans-serif" font-size="34" fill="#000">±100</text>
<text transform="translate(752.64 477.00) scale(1.1818 1.0000)" font-family="Liberation Sans, sans-serif" font-size="38" fill="#000" font-style="italic" stroke="#fff" stroke-width="0.45">f</text>
<text transform="translate(764.24 482.30) scale(1.0636 0.9385)" font-family="Liberation Sans, sans-serif" font-size="23" fill="#000" stroke="#000" stroke-width="0.7">o</text>
<text transform="translate(786.29 476.70) scale(1.0145 0.9893)" font-family="Liberation Sans, sans-serif" font-size="38" fill="#000">shift</text>
<text transform="translate(868.09 476.70) scale(0.9559 1.0143)" font-family="Liberation Sans, sans-serif" font-size="38" fill="#000">(cent)</text>
<text transform="translate(596.10 361.93) rotate(-90) scale(0.9258 0.9852)" font-family="Liberation Sans, sans-serif" font-size="38" fill="#000">%</text>
<text transform="translate(596.10 321.29) rotate(-90) scale(0.9942 1.0429)" font-family="Liberation Sans, sans-serif" font-size="38" fill="#000">compensated</text>
<text transform="translate(1359.82 48.40) scale(0.9396 1.0226)" font-family="Liberation Sans, sans-serif" font-size="43" fill="#ff6a00">Slow</text>
<text transform="translate(1111.00 362.96) rotate(-90) scale(0.9581 1.0037)" font-family="Liberation Sans, sans-serif" font-size="38" fill="#000">%</text>
<text transform="translate(1111.00 321.59) rotate(-90) scale(0.9955 1.0500)" font-family="Liberation Sans, sans-serif" font-size="38" fill="#000">compensated</text>
<text transform="translate(1162.70 338.64) rotate(-90) scale(1.0372 1.0286)" font-family="Liberation Sans, sans-serif" font-size="38" fill="#000">for</text>
<text transform="translate(1162.70 283.81) rotate(-90) scale(1.0085 0.9667)" font-family="Liberation Sans, sans-serif" font-size="38" fill="#000">±100</text>
<text transform="translate(1162.70 188.60) rotate(-90) scale(0.9957 1.0250)" font-family="Liberation Sans, sans-serif" font-size="38" fill="#000">shift</text>
<text transform="translate(1168.05 79.30) scale(0.9827 1.0391)" font-family="Liberation Sans, sans-serif" font-size="34" fill="#000">100</text>
<text transform="translate(1186.37 143.70) scale(0.9657 1.0391)" font-family="Liberation Sans, sans-serif" font-size="34" fill="#000">80</text>
<text transform="translate(1186.37 208.10) scale(0.9657 1.0391)" font-family="Liberation Sans, sans-serif" font-size="34" fill="#000">60</text>
<text transform="translate(1187.36 272.50) scale(0.9389 1.0391)" font-family="Liberation Sans, sans-serif" font-size="34" fill="#000">40</text>
<text transform="translate(1186.37 336.90) scale(0.9657 1.0391)" font-family="Liberation Sans, sans-serif" font-size="34" fill="#000">20</text>
<text transform="translate(1204.31 401.30) scale(0.9882 1.0391)" font-family="Liberation Sans, sans-serif" font-size="34" fill="#000">0</text>
<text transform="translate(1227.99 428.30) scale(1.0067 1.0478)" font-family="Liberation Sans, sans-serif" font-size="34" fill="#000">5</text>
<text transform="translate(1303.94 428.30) scale(0.9529 1.0478)" font-family="Liberation Sans, sans-serif" font-size="34" fill="#000">10</text>
<text transform="translate(1387.81 428.30) scale(0.9303 1.0478)" font-family="Liberation Sans, sans-serif" font-size="34" fill="#000">15</text>
<text transform="translate(1471.40 428.30) scale(0.9514 1.0478)" font-family="Liberation Sans, sans-serif" font-size="34" fill="#000">20</text>
<text transform="translate(1555.28 428.30) scale(0.9118 1.0478)" font-family="Liberation Sans, sans-serif" font-size="34" fill="#000">25</text>
<text transform="translate(1267.20 476.90) scale(1.0167 1.0214)" font-family="Liberation Sans, sans-serif" font-size="38" fill="#000">Variability</text>
<text transform="translate(1442.48 476.90) scale(0.9624 1.0214)" font-family="Liberation Sans, sans-serif" font-size="38" fill="#000">(cent)</text>
<text transform="translate(1435.71 110.90) scale(1.0917 1.0100)" font-family="Liberation Sans, sans-serif" font-size="37" fill="#000" font-style="italic">r</text>
<text transform="translate(1457.04 110.90) scale(0.9776 1.0115)" font-family="Liberation Sans, sans-serif" font-size="37" fill="#000">= 0.37*</text>
<text transform="translate(895.92 90.54) scale(0.8800 0.9154)" font-family="Liberation Serif, serif" font-size="34" fill="#000" stroke="#000" stroke-width="0.5">*</text>
</g>
</svg>
</body></html>
